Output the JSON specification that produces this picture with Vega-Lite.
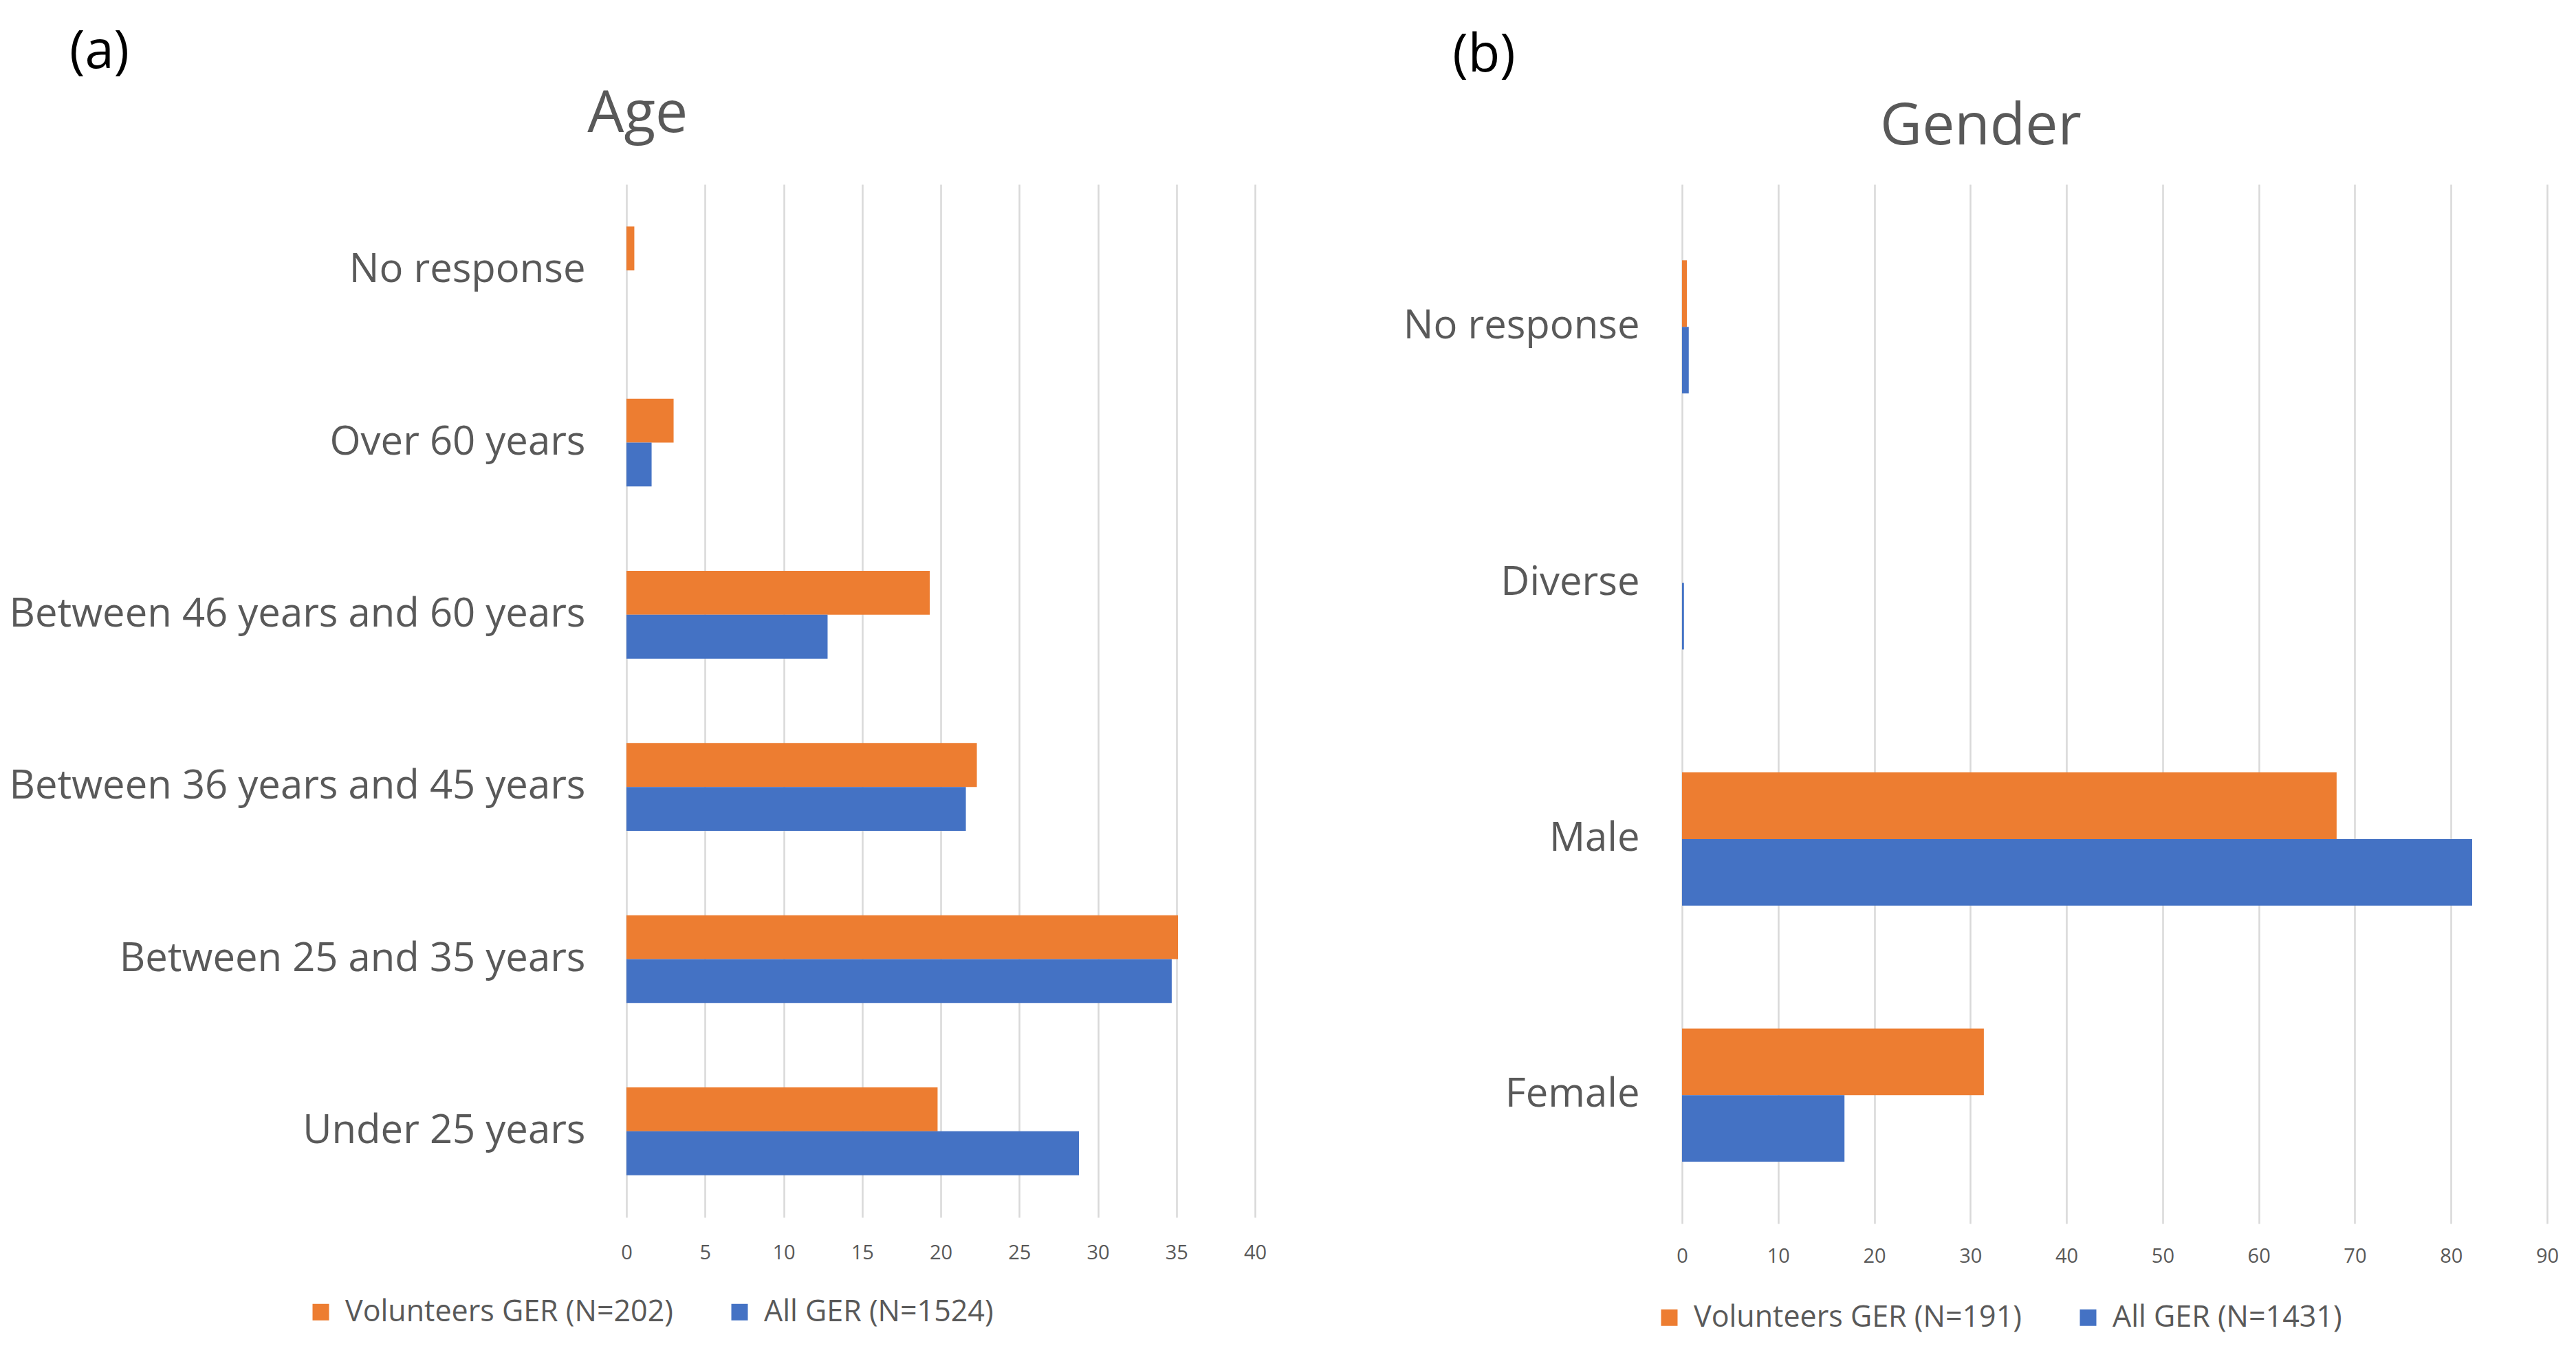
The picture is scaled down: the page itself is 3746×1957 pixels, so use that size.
{
  "$schema": "https://vega.github.io/schema/vega-lite/v6.json",
  "background": "white",
  "padding": {"left": 12, "top": 38, "right": 10, "bottom": 5},
  "config": {"font": "Open Sans", "view": {"stroke": null}},
  "datasets": {
    "age": [
      {"category": "No response", "series": "Volunteers GER (N=202)", "value": 0.5},
      {"category": "No response", "series": "All GER (N=1524)", "value": 0},
      {"category": "Over 60 years", "series": "Volunteers GER (N=202)", "value": 3.0},
      {"category": "Over 60 years", "series": "All GER (N=1524)", "value": 1.6},
      {"category": "Between 46 years and 60 years", "series": "Volunteers GER (N=202)", "value": 19.3},
      {"category": "Between 46 years and 60 years", "series": "All GER (N=1524)", "value": 12.8},
      {"category": "Between 36 years and 45 years", "series": "Volunteers GER (N=202)", "value": 22.3},
      {"category": "Between 36 years and 45 years", "series": "All GER (N=1524)", "value": 21.6},
      {"category": "Between 25 and 35 years", "series": "Volunteers GER (N=202)", "value": 35.1},
      {"category": "Between 25 and 35 years", "series": "All GER (N=1524)", "value": 34.7},
      {"category": "Under 25 years", "series": "Volunteers GER (N=202)", "value": 19.8},
      {"category": "Under 25 years", "series": "All GER (N=1524)", "value": 28.8}
    ],
    "gender": [
      {"category": "No response", "series": "Volunteers GER (N=191)", "value": 0.5},
      {"category": "No response", "series": "All GER (N=1431)", "value": 0.7},
      {"category": "Diverse", "series": "Volunteers GER (N=191)", "value": 0},
      {"category": "Diverse", "series": "All GER (N=1431)", "value": 0.2},
      {"category": "Male", "series": "Volunteers GER (N=191)", "value": 68.1},
      {"category": "Male", "series": "All GER (N=1431)", "value": 82.2},
      {"category": "Female", "series": "Volunteers GER (N=191)", "value": 31.4},
      {"category": "Female", "series": "All GER (N=1431)", "value": 16.9}
    ]
  },
  "spacing": 198,
  "resolve": {"scale": {"color": "independent", "x": "independent", "y": "independent", "yOffset": "independent"}, "legend": {"color": "independent"}},
  "hconcat": [
    {
      "title": {"text": "(a)", "anchor": "start", "frame": "bounds", "dx": 88, "fontSize": 76, "fontWeight": "normal", "color": "#000000", "offset": 10},
      "vconcat": [
        {
          "data": {"name": "age"},
          "title": {"text": "Age", "anchor": "middle", "frame": "bounds", "fontSize": 84, "fontWeight": "normal", "color": "#595959", "offset": 58},
          "width": 914,
          "height": 1502,
          "mark": {"type": "bar"},
          "encoding": {
            "y": {
              "field": "category", "type": "nominal",
              "sort": ["No response", "Over 60 years", "Between 46 years and 60 years", "Between 36 years and 45 years", "Between 25 and 35 years", "Under 25 years"],
              "scale": {"paddingInner": 0.49, "paddingOuter": 0.245},
              "axis": {"title": null, "labelFontSize": 58, "labelColor": "#595959", "labelPadding": 60, "ticks": false, "domain": false, "labelLimit": 0, "grid": false}
            },
            "yOffset": {"field": "series", "type": "nominal", "sort": ["Volunteers GER (N=202)", "All GER (N=1524)"]},
            "x": {
              "field": "value", "type": "quantitative",
              "scale": {"domain": [0, 40], "nice": false},
              "axis": {"title": null, "values": [0, 5, 10, 15, 20, 25, 30, 35, 40], "labelFontSize": 29, "labelColor": "#595959", "labelPadding": 37, "ticks": false, "domain": false, "gridColor": "#D9D9D9", "gridWidth": 2.5, "labelFlush": false}
            },
            "color": {
              "field": "series", "type": "nominal",
              "scale": {"domain": ["Volunteers GER (N=202)", "All GER (N=1524)"], "range": ["#ED7D31", "#4472C4"]},
              "legend": {"title": null, "orient": "none", "legendX": -466, "legendY": 1618, "direction": "horizontal", "symbolType": "square", "symbolSize": 576, "symbolStrokeWidth": 0, "labelFontSize": 43, "labelColor": "#595959", "labelOffset": 14, "labelLimit": 0, "columnPadding": 75}
            }
          }
        }
      ]
    },
    {
      "title": {"text": "(b)", "anchor": "start", "frame": "bounds", "dx": 72, "dy": 23, "fontSize": 76, "fontWeight": "normal", "color": "#000000", "offset": 46},
      "vconcat": [
        {
          "data": {"name": "gender"},
          "title": {"text": "Gender", "anchor": "middle", "frame": "bounds", "fontSize": 84, "fontWeight": "normal", "color": "#595959", "offset": 40},
          "width": 1258,
          "height": 1511,
          "mark": {"type": "bar"},
          "encoding": {
            "y": {
              "field": "category", "type": "nominal",
              "sort": ["No response", "Diverse", "Male", "Female"],
              "scale": {"paddingInner": 0.48, "paddingOuter": 0.269, "align": 0.551},
              "axis": {"title": null, "labelFontSize": 58, "labelColor": "#595959", "labelPadding": 62, "ticks": false, "domain": false, "labelLimit": 0, "grid": false}
            },
            "yOffset": {"field": "series", "type": "nominal", "sort": ["Volunteers GER (N=191)", "All GER (N=1431)"]},
            "x": {
              "field": "value", "type": "quantitative",
              "scale": {"domain": [0, 90], "nice": false},
              "axis": {"title": null, "values": [0, 10, 20, 30, 40, 50, 60, 70, 80, 90], "labelFontSize": 29, "labelColor": "#595959", "labelPadding": 33, "ticks": false, "domain": false, "gridColor": "#D9D9D9", "gridWidth": 2.5, "labelFlush": false}
            },
            "color": {
              "field": "series", "type": "nominal",
              "scale": {"domain": ["Volunteers GER (N=191)", "All GER (N=1431)"], "range": ["#ED7D31", "#4472C4"]},
              "legend": {"title": null, "orient": "none", "legendX": -40, "legendY": 1626, "direction": "horizontal", "symbolType": "square", "symbolSize": 576, "symbolStrokeWidth": 0, "labelFontSize": 43, "labelColor": "#595959", "labelOffset": 14, "labelLimit": 0, "columnPadding": 75}
            }
          }
        }
      ]
    }
  ]
}
